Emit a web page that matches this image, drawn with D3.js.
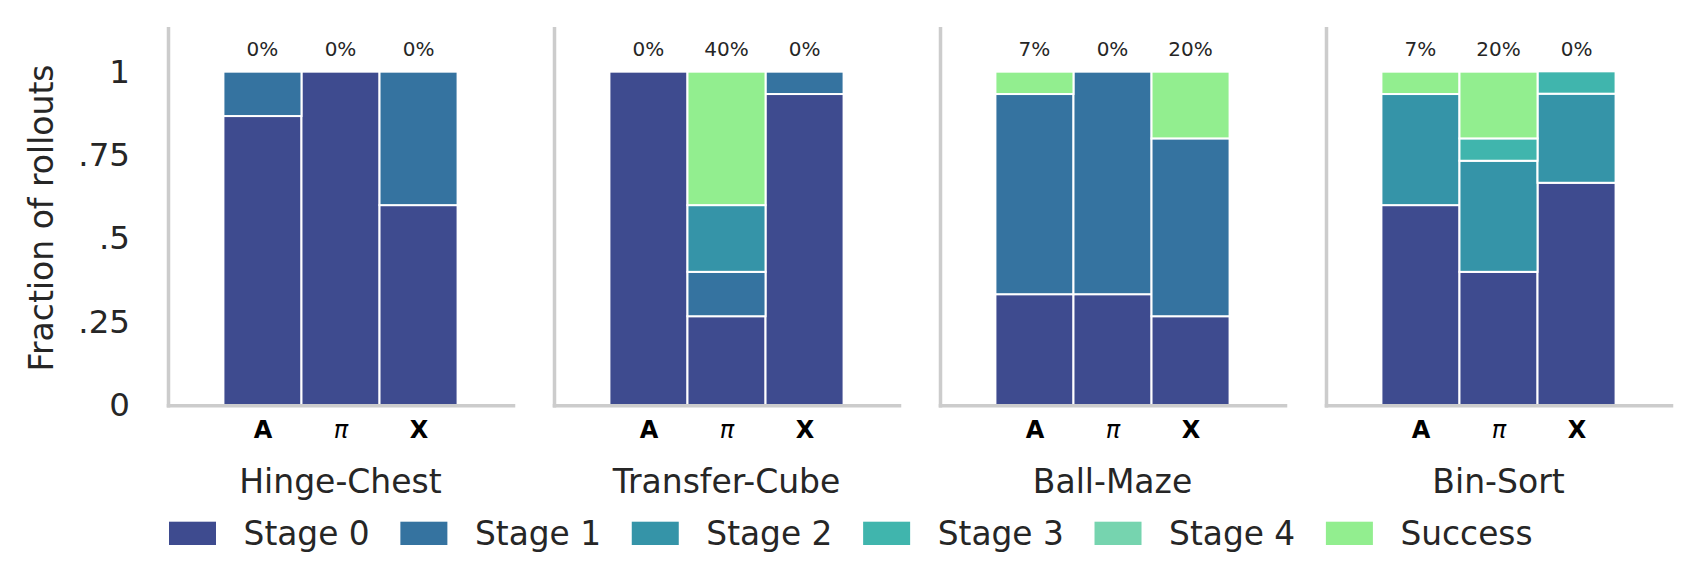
<!DOCTYPE html>
<html>
<head>
<meta charset="utf-8">
<script src="https://cdn.jsdelivr.net/npm/d3@7"></script>
<style>
  body { margin: 0; background: #fff; }
  text { font-family: "DejaVu Sans", sans-serif; fill: #262626; }
</style>
</head>
<body>
<div id="chart"></div>
<script>
// tasks / methods / stages
var tasks = ["Hinge-Chest", "Transfer-Cube", "Ball-Maze", "Bin-Sort"];
var methods = ["A", "π", "X"];
var stages = ["Stage 0", "Stage 1", "Stage 2", "Stage 3", "Stage 4", "Success"];
var stageColors = ["#3e4b8f", "#3573a0", "#3594a8", "#40b5ad", "#76d4af", "#92ee8f"];

// fraction of rollouts per stage, one array per method: [s0, s1, s2, s3, s4, success]
var hingeChest = [
  [0.867, 0.133, 0, 0, 0, 0],
  [1.0,   0,     0, 0, 0, 0],
  [0.6,   0.4,   0, 0, 0, 0]
];
var transferCube = [
  [1.0,   0,     0,   0, 0, 0],
  [0.267, 0.133, 0.2, 0, 0, 0.4],
  [0.933, 0.067, 0,   0, 0, 0]
];
var ballMaze = [
  [0.333, 0.6,   0, 0, 0, 0.067],
  [0.333, 0.667, 0, 0, 0, 0],
  [0.267, 0.533, 0, 0, 0, 0.2]
];
var binSort = [
  [0.6,   0, 0.333, 0,     0, 0.067],
  [0.4,   0, 0.333, 0.067, 0, 0.2],
  [0.667, 0, 0.267, 0.067, 0, 0]
];
var taskValues = [hingeChest, transferCube, ballMaze, binSort];

var yTicks = [0, 0.25, 0.5, 0.75, 1];
var yTickLabels = ["0", ".25", ".5", ".75", "1"];

var width = 1701,
    height = 582;

var svg = d3.select("#chart")
    .append("svg")
    .attr("width", width)
    .attr("height", height);

var panelLeft = 168,
    panelStep = 386,
    panelWidth = 345,
    panelTop = 28.3,
    panelBottom = 405.3;

var x = d3.scaleLinear().domain([-1.21, 3.21]).range([0, panelWidth]);
var y = d3.scaleLinear().domain([0, 1.13]).range([panelBottom, panelTop]);
var color = d3.scaleOrdinal().domain(stages).range(stageColors);
var barW = x(1) - x(0);

var stack = d3.stack().keys(stages);

tasks.forEach(function(task, ti) {
    var rows = methods.map(function(m, mi) {
        var row = { method: m, idx: mi };
        stages.forEach(function(s, si) { row[s] = taskValues[ti][mi][si]; });
        return row;
    });

    var g = svg.append("g")
        .attr("transform", "translate(" + (panelLeft + ti * panelStep) + ",0)");

    var layers = g.selectAll(".layer")
        .data(stack(rows))
        .enter().append("g")
        .attr("class", "layer")
        .attr("fill", function(d) { return color(d.key); });

    layers.selectAll("rect")
        .data(function(d) { return d.filter(function(p) { return p[1] - p[0] > 0; }); })
        .enter().append("rect")
        .attr("x", function(d) { return x(d.data.idx - 0.5); })
        .attr("width", barW)
        .attr("y", function(d) { return y(d[1]); })
        .attr("height", function(d) { return y(d[0]) - y(d[1]); })
        .attr("stroke", "#fff")
        .attr("stroke-width", 2);

    // success rate labels
    g.selectAll(".pct")
        .data(rows)
        .enter().append("text")
        .attr("class", "pct")
        .attr("x", function(d) { return x(d.idx); })
        .attr("y", 56)
        .attr("text-anchor", "middle")
        .style("font-size", "20px")
        .text(function(d) { return Math.round(d["Success"] * 100) + "%"; });

    // bottom axis
    var xAxis = g.append("g")
        .attr("transform", "translate(0," + panelBottom + ")")
        .call(d3.axisBottom(x).tickValues([0, 1, 2]).tickSize(0).tickSizeOuter(0)
            .tickFormat(function(d) { return methods[d]; }));
    xAxis.select(".domain")
        .attr("stroke", "#cccccc")
        .attr("stroke-width", 3.5)
        .attr("stroke-linecap", "square");
    xAxis.selectAll(".tick text")
        .attr("y", 33)
        .attr("dy", null)
        .style("font-size", "24px")
        .style("fill", "#000")
        .style("font-weight", function(d) { return methods[d] === "π" ? "normal" : "bold"; })
        .style("font-style", function(d) { return methods[d] === "π" ? "italic" : "normal"; });

    // left axis
    var yAxis = g.append("g")
        .call(d3.axisLeft(y).tickValues(ti === 0 ? yTicks : []).tickSize(0).tickSizeOuter(0)
            .tickPadding(38)
            .tickFormat(function(d, i) { return yTickLabels[i]; }));
    yAxis.select(".domain")
        .attr("stroke", "#cccccc")
        .attr("stroke-width", 3.5)
        .attr("stroke-linecap", "square");
    yAxis.selectAll(".tick text")
        .style("font-size", "32.5px")
        .style("fill", "#262626");

    g.append("text")
        .attr("x", panelWidth / 2)
        .attr("y", 493.3)
        .attr("text-anchor", "middle")
        .style("font-size", "33px")
        .text(task);
});

// y label
svg.append("text")
    .attr("transform", "translate(53,218) rotate(-90)")
    .attr("text-anchor", "middle")
    .style("font-size", "33px")
    .text("Fraction of rollouts");

// legend
var legend = svg.append("g").attr("class", "legend");
var lx = 169;
stages.forEach(function(s) {
    legend.append("rect")
        .attr("x", lx)
        .attr("y", 521.7)
        .attr("width", 47)
        .attr("height", 23.3)
        .attr("fill", color(s));
    var t = legend.append("text")
        .attr("x", lx + 47 + 27.6)
        .attr("y", 545)
        .style("font-size", "32.8px")
        .text(s);
    lx += 47 + 27.6 + t.node().getComputedTextLength() + 30.7;
});
</script>
</body>
</html>
